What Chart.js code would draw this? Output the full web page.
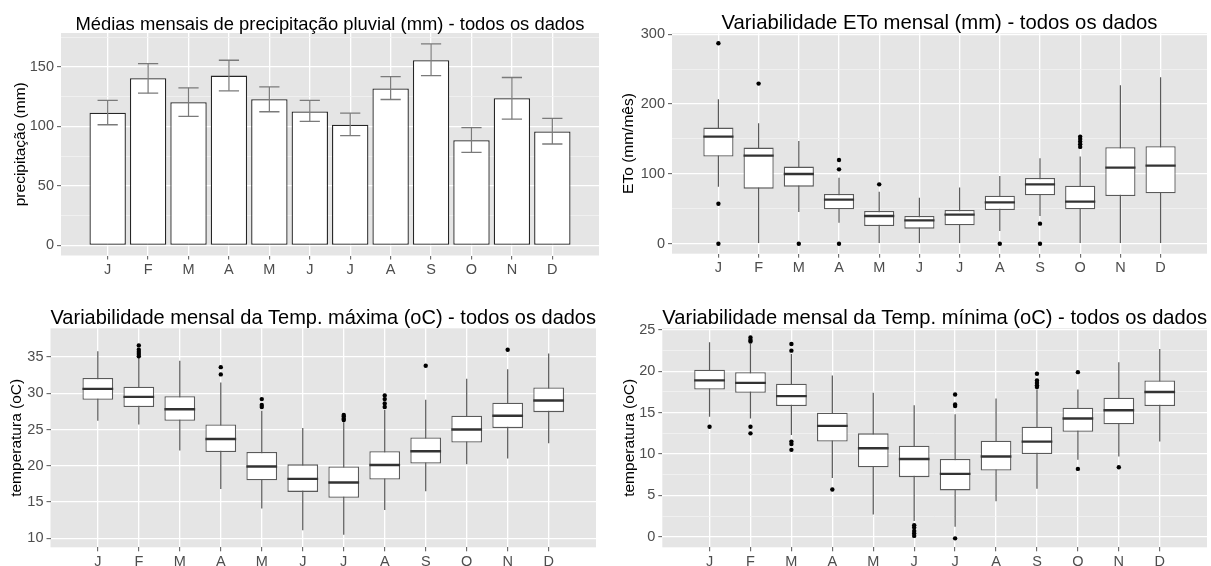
<!DOCTYPE html>
<html><head><meta charset="utf-8">
<script src="https://cdn.jsdelivr.net/npm/chart.js@4"></script>
<style>
html,body{margin:0;padding:0;background:#fff;}
body{width:1211px;height:566px;position:relative;overflow:hidden;}
canvas{position:absolute;}
</style></head><body>
<canvas id="c1" width="605" height="283" style="left:0;top:0"></canvas>
<canvas id="c2" width="606" height="283" style="left:605px;top:0"></canvas>
<canvas id="c3" width="605" height="283" style="left:0;top:283px"></canvas>
<canvas id="c4" width="606" height="283" style="left:605px;top:283px"></canvas>
<script>
const months = ['J','F','M','A','M','J','J','A','S','O','N','D'];

// Panel 1: precipitation means with error bars
const precipMean = [111.5, 140.5, 120.4, 142.7, 122.9, 112.6, 101.4, 131.8, 155.6, 88.3, 123.7, 95.8];
const precipLow  = [101.4, 127.9, 108.4, 129.9, 112.3, 104.2, 92.2, 122.6, 142.7, 78.2, 106.1, 85.2];
const precipHigh = [121.8, 152.8, 132.4, 155.6, 133.2, 121.8, 111.2, 141.9, 169.3, 98.9, 141.1, 106.7];
const precipYMajor = [0, 50, 100, 150];
const precipYMinor = [25, 75, 125, 175];

// Panel 2: ETo boxplots
const etoWLow  = [81.7, 0, 45.4, 30.1, 0, 0, 0, 18.2, 39.7, 0, 0, 0];
const etoQ1    = [124.7, 78.8, 81.7, 49.2, 25.3, 21.5, 26.3, 48.3, 69.3, 49.2, 68.3, 72.1];
const etoMed   = [153.4, 126.1, 99.9, 63.1, 39.7, 33.4, 41.6, 59.2, 85.0, 60.2, 108.9, 111.8];
const etoQ3    = [166.3, 137.6, 110.4, 71.2, 46.8, 39.7, 48.3, 68.8, 94.1, 83.1, 138.1, 139.5];
const etoWHigh = [206.9, 172.5, 147.2, 94.6, 74.5, 65.9, 80.3, 97.0, 122.3, 124.7, 227.0, 238.4];
const etoOut   = [[287, 57.3, 0], [229.3], [0], [119.9, 106.5, 0], [85], [], [], [0], [28.7, 0], [153.4, 150, 146.2, 142.4, 138.6], [], []];
const etoYMajor = [0, 100, 200, 300];
const etoYMinor = [50, 150, 250];

// Panel 3: Tmax boxplots
const tmaxWLow  = [26.2, 25.7, 22.1, 16.8, 14.1, 11.1, 10.5, 13.9, 16.5, 20.2, 21.0, 23.1];
const tmaxQ1    = [29.1, 28.1, 26.2, 21.9, 18.0, 16.4, 15.6, 18.1, 20.3, 23.2, 25.2, 27.4];
const tmaxMed   = [30.6, 29.5, 27.8, 23.7, 19.9, 18.2, 17.7, 20.1, 22.0, 25.0, 26.9, 29.0];
const tmaxQ3    = [32.1, 30.9, 29.6, 25.7, 21.9, 20.2, 19.9, 22.0, 23.9, 26.9, 28.7, 30.8];
const tmaxWHigh = [35.8, 34.9, 34.5, 31.5, 27.6, 25.2, 26.0, 27.7, 29.1, 32.0, 33.3, 35.5];
const tmaxOut   = [[], [36.6, 36.0, 35.7, 35.4, 35.1], [], [33.6, 32.6], [29.2, 28.4, 28.1], [], [27.0, 26.8, 26.5, 26.3], [29.7, 29.2, 28.6, 28.1], [33.8], [], [36.0], []];
const tmaxYMajor = [10, 15, 20, 25, 30, 35];
const tmaxYMinor = [12.5, 17.5, 22.5, 27.5, 32.5, 37.5];

// Panel 4: Tmin boxplots
const tminWLow  = [14.5, 14.3, 12.3, 7.1, 2.7, 1.9, 1.2, 4.3, 5.8, 9.3, 9.7, 11.5];
const tminQ1    = [17.8, 17.4, 15.8, 11.5, 8.4, 7.2, 5.6, 8.0, 10.0, 12.7, 13.6, 15.8];
const tminMed   = [18.9, 18.6, 17.0, 13.4, 10.7, 9.4, 7.6, 9.7, 11.5, 14.3, 15.3, 17.5];
const tminQ3    = [20.2, 19.9, 18.5, 15.0, 12.5, 11.0, 9.4, 11.6, 13.3, 15.6, 16.8, 18.9];
const tminWHigh = [23.5, 23.3, 22.1, 19.5, 17.4, 15.9, 14.8, 16.7, 17.8, 17.8, 21.1, 22.7];
const tminOut   = [[13.3], [24.1, 23.8, 23.6, 13.3, 12.5], [23.3, 22.5, 11.5, 11.2, 10.5], [5.7], [], [1.4, 1.1, 0.7, 0.4, 0.1], [17.2, 16.0, 15.8, -0.2], [], [19.7, 18.9, 18.6, 18.3, 18.1], [19.9, 8.2], [8.4], []];
const tminYMajor = [0, 5, 10, 15, 20, 25];
const tminYMinor = [2.5, 7.5, 12.5, 17.5, 22.5];

Chart.defaults.font.family = "'Liberation Sans', Arial, sans-serif";
Chart.defaults.animation = false;

const panelBg = {
  id: 'panelBg',
  beforeDraw(chart) {
    const {ctx, chartArea: a} = chart;
    ctx.save();
    ctx.fillStyle = '#e5e5e5';
    ctx.fillRect(a.left, a.top, a.right - a.left, a.bottom - a.top);
    ctx.restore();
  }
};

function halfWidth(frac) {
  return (c) => {
    const s = c.chart.scales.x;
    return Math.abs(s.getPixelForValue(frac) - s.getPixelForValue(0));
  };
}

function makeOptions(p) {
  const majorSet = new Set(p.yMajor);
  const yTicks = p.yMajor.concat(p.yMinor).sort((a, b) => a - b);
  const isMajor = (c) => c.tick && majorSet.has(c.tick.value);
  return {
    responsive: false,
    animation: false,
    events: [],
    layout: {padding: {left: 0, right: p.padRight, top: 0, bottom: 0}},
    plugins: {
      legend: {display: false},
      tooltip: {enabled: false},
      title: {
        display: true, text: p.title, fullSize: false, color: '#000',
        font: {size: p.titleSize, lineHeight: 0.9, weight: 'normal'},
        padding: {top: p.titleTop, bottom: p.titleBottom}
      }
    },
    scales: {
      x: {
        type: 'linear', min: -0.6, max: 11.6,
        afterBuildTicks: (ax) => { ax.ticks = months.map((m, i) => ({value: i})); },
        afterFit: (ax) => { ax.height = p.xHeight; },
        ticks: {autoSkip: false, maxRotation: 0, minRotation: 0, color: '#4d4d4d',
                font: {size: 14.5}, padding: 2, callback: (v, i) => months[i]},
        grid: {color: '#ffffff', lineWidth: 1.3, tickColor: '#555', tickLength: 4, tickWidth: 1, offset: false},
        border: {display: false}
      },
      y: {
        min: p.yMin, max: p.yMax,
        afterBuildTicks: (ax) => { ax.ticks = yTicks.map(v => ({value: v})); },
        afterFit: (ax) => { ax.width = p.yWidth; },
        ticks: {color: '#4d4d4d', font: {size: 14.5}, padding: 3,
                callback: (v) => majorSet.has(v) ? String(v) : ''},
        grid: {
          color: (c) => isMajor(c) ? '#ffffff' : '#f2f2f2',
          lineWidth: (c) => isMajor(c) ? 1.3 : 0.8,
          tickColor: (c) => isMajor(c) ? '#555' : 'rgba(0,0,0,0)',
          tickLength: 4, tickWidth: 1
        },
        border: {display: false},
        title: {display: true, text: p.yTitle, color: '#000', font: {size: 15.5},
                padding: {top: p.yTitlePad, bottom: 0}}
      }
    }
  };
}

function boxDatasets(b) {
  return [
    {type: 'bar', data: months.map((m, i) => ({x: i, y: [b.wLow[i], b.wHigh[i]]})),
     backgroundColor: '#5a5a5a', borderWidth: 0, barPercentage: 0.03, categoryPercentage: 1, grouped: false, order: 4},
    {type: 'bar', data: months.map((m, i) => ({x: i, y: [b.q1[i], b.q3[i]]})),
     backgroundColor: '#ffffff', borderColor: '#5a5a5a', borderWidth: 1.3, borderSkipped: false,
     barPercentage: 0.75, categoryPercentage: 1, grouped: false, order: 3},
    {type: 'line', showLine: false, data: months.map((m, i) => ({x: i, y: b.med[i]})),
     pointStyle: 'line', pointRadius: halfWidth(0.375), pointBorderColor: '#333', pointBorderWidth: 2.4, order: 2},
    {type: 'line', showLine: false, data: b.out.flatMap((arr, i) => arr.map(v => ({x: i, y: v}))),
     pointStyle: 'circle', pointRadius: 2.2, pointBackgroundColor: '#000', pointBorderWidth: 0, order: 1}
  ];
}

// Panel 1
new Chart(document.getElementById('c1'), {
  type: 'bar',
  data: {datasets: [
    {type: 'bar', data: months.map((m, i) => ({x: i, y: precipMean[i]})),
     backgroundColor: '#ffffff', borderColor: '#262626', borderWidth: 1.3, borderSkipped: false,
     barPercentage: 0.9, categoryPercentage: 1, grouped: false, order: 3},
    {type: 'bar', data: months.map((m, i) => ({x: i, y: [precipLow[i], precipHigh[i]]})),
     backgroundColor: '#7a7a7a', borderWidth: 0, barPercentage: 0.03, categoryPercentage: 1, grouped: false, order: 2},
    {type: 'line', showLine: false,
     data: months.flatMap((m, i) => [{x: i, y: precipLow[i]}, {x: i, y: precipHigh[i]}]),
     pointStyle: 'line', pointRadius: halfWidth(0.25), pointBorderColor: '#7a7a7a', pointBorderWidth: 1.3, order: 1}
  ]},
  options: makeOptions({
    title: 'Médias mensais de precipitação pluvial (mm) - todos os dados', titleSize: 18.4, titleTop: 16.34, titleBottom: 0.1,
    yTitle: 'precipitação (mm)', yTitlePad: 11.6, yWidth: 61, padRight: 6, xHeight: 27.5,
    yMin: -8.5, yMax: 178.5, yMajor: precipYMajor, yMinor: precipYMinor
  }),
  plugins: [panelBg]
});

// Panel 2
new Chart(document.getElementById('c2'), {
  type: 'bar',
  data: {datasets: boxDatasets({wLow: etoWLow, q1: etoQ1, med: etoMed, q3: etoQ3, wHigh: etoWHigh, out: etoOut})},
  options: makeOptions({
    title: 'Variabilidade ETo mensal (mm) - todos os dados', titleSize: 20.3, titleTop: 13.83, titleBottom: 1.2,
    yTitle: 'ETo (mm/mês)', yTitlePad: 14.4, yWidth: 67, padRight: 4, xHeight: 29.3,
    yMin: -14.35, yMax: 301.35, yMajor: etoYMajor, yMinor: etoYMinor
  }),
  plugins: [panelBg]
});

// Panel 3
new Chart(document.getElementById('c3'), {
  type: 'bar',
  data: {datasets: boxDatasets({wLow: tmaxWLow, q1: tmaxQ1, med: tmaxMed, q3: tmaxQ3, wHigh: tmaxWHigh, out: tmaxOut})},
  options: makeOptions({
    title: 'Variabilidade mensal da Temp. máxima (oC) - todos os dados', titleSize: 20.3, titleTop: 25.83, titleBottom: 1.2,
    yTitle: 'temperatura (oC)', yTitlePad: 7.4, yWidth: 50.5, padRight: 9, xHeight: 18.7,
    yMin: 8.76, yMax: 38.96, yMajor: tmaxYMajor, yMinor: tmaxYMinor
  }),
  plugins: [panelBg]
});

// Panel 4
new Chart(document.getElementById('c4'), {
  type: 'bar',
  data: {datasets: boxDatasets({wLow: tminWLow, q1: tminQ1, med: tminMed, q3: tminQ3, wHigh: tminWHigh, out: tminOut})},
  options: makeOptions({
    title: 'Variabilidade mensal da Temp. mínima (oC) - todos os dados', titleSize: 20.3, titleTop: 25.83, titleBottom: 1.2,
    yTitle: 'temperatura (oC)', yTitlePad: 15.1, yWidth: 57.3, padRight: 4, xHeight: 18.7,
    yMin: -1.28, yMax: 25.2, yMajor: tminYMajor, yMinor: tminYMinor
  }),
  plugins: [panelBg]
});
</script>
</body></html>
